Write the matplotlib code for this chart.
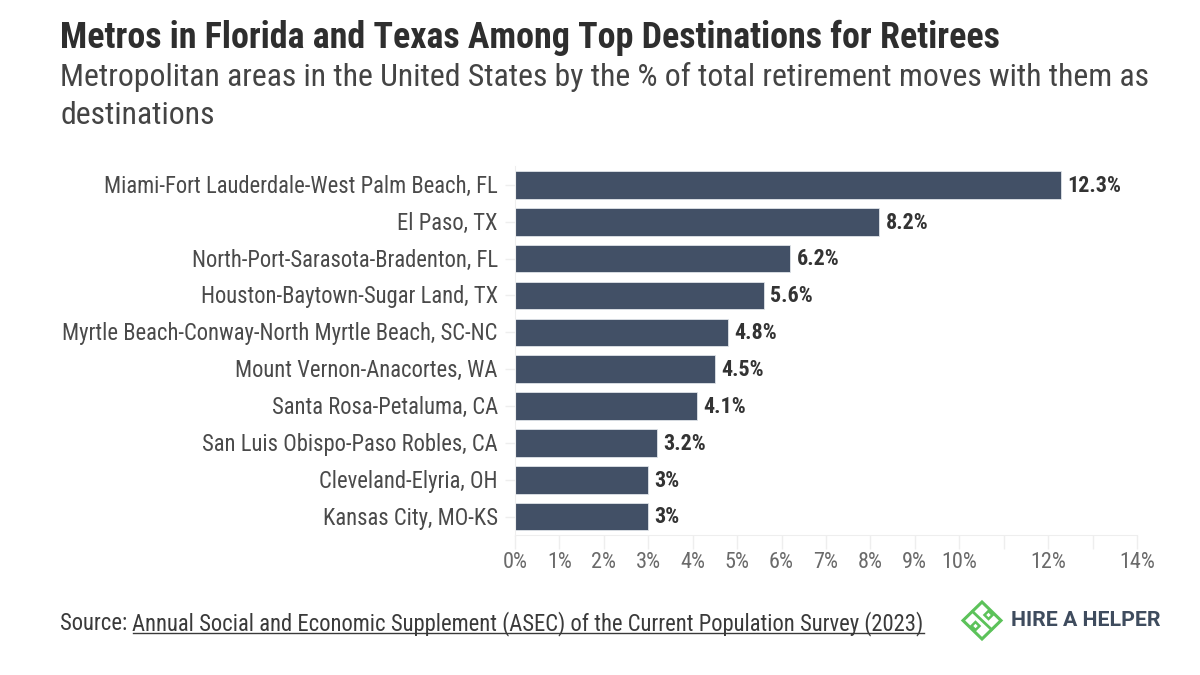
import matplotlib
matplotlib.use("Agg")
import matplotlib.pyplot as plt
from matplotlib.lines import Line2D
from matplotlib.patches import Polygon
from matplotlib.transforms import ScaledTranslation

COND = "Roboto Condensed"

metros = ["Miami-Fort Lauderdale-West Palm Beach, FL", "El Paso, TX", "North-Port-Sarasota-Bradenton, FL",
          "Houston-Baytown-Sugar Land, TX", "Myrtle Beach-Conway-North Myrtle Beach, SC-NC",
          "Mount Vernon-Anacortes, WA", "Santa Rosa-Petaluma, CA", "San Luis Obispo-Paso Robles, CA",
          "Cleveland-Elyria, OH", "Kansas City, MO-KS"]
shares = [12.3, 8.2, 6.2, 5.6, 4.8, 4.5, 4.1, 3.2, 3.0, 3.0]
share_labels = ["12.3%", "8.2%", "6.2%", "5.6%", "4.8%", "4.5%", "4.1%", "3.2%", "3%", "3%"]
x_ticks = list(range(15))
x_tick_labels = ["0%", "1%", "2%", "3%", "4%", "5%", "6%", "7%", "8%", "9%", "10%", "", "12%", "", "14%"]

W, H = 1200, 675
fig = plt.figure(figsize=(W / 100, H / 100), dpi=100, facecolor="white")
plt.rcParams["font.family"] = [COND, "DejaVu Sans"]
ax = fig.add_axes([515 / W, 1 - 535 / H, (1137 - 515) / W, (535 - 166.5) / H])
ypos = list(range(len(metros)))
ax.barh(ypos, shares, height=0.75, color="#425066", edgecolor="#dfe3e8", linewidth=0.6)
ax.set_xlim(0, 14)
ax.set_ylim(len(metros) - 0.5, -0.5)
ax.set_yticks(ypos, metros, fontsize=16.3, color="#4a4a4a")
ax.set_xticks(x_ticks, x_tick_labels, fontsize=16, color="#6a6a6a")
ax.tick_params(axis="y", length=7, color="#eeeeee", width=1, pad=5.5)
ax.tick_params(axis="x", length=10, color="#eeeeee", width=1, pad=2.5)
up = ScaledTranslation(0, 1 / 100, fig.dpi_scale_trans)
for t in ax.get_yticklabels():
    t.set_transform(t.get_transform() + up)
for s in ("top", "right"):
    ax.spines[s].set_visible(False)
for s in ("left", "bottom"):
    ax.spines[s].set_color("#eeeeee")
for y, v, lab in zip(ypos, shares, share_labels):
    ax.annotate(lab, (v, y), xytext=(4.5, -0.6), textcoords="offset points", va="center", ha="left",
                fontsize=15.8, fontweight="bold", color="#333333")

def ftext(x, y, s, **kw):
    return fig.text(x / W, 1 - y / H, s, va="center", **kw)

ftext(60, 38, "Metros in Florida and Texas Among Top Destinations for Retirees", fontsize=25.9, fontweight="bold", color="#2e2e2e")
ftext(60, 77, "Metropolitan areas in the United States by the % of total retirement moves with them as", fontsize=22.85, color="#444444")
ftext(60, 115, "destinations", fontsize=22.85, color="#444444")

src = ftext(60, 624, "Source: ", fontsize=16.3, color="#3a3a3a")
fig.canvas.draw()
r = fig.canvas.get_renderer()
bb = src.get_window_extent(r)
link = fig.text(bb.x1 / W, 1 - 624 / H, "Annual Social and Economic Supplement (ASEC) of the Current Population Survey (2023)",
                va="center", fontsize=16.3, color="#3a3a3a")
bb2 = link.get_window_extent(r)
fig.add_artist(Line2D([bb2.x0 / W, bb2.x1 / W], [1 - 633 / H] * 2, color="#3a3a3a", lw=1, transform=fig.transFigure))

# logo
def fp(pts):
    return [(x / W, 1 - y / H) for x, y in pts]
GREEN = "#5cc25a"
fig.add_artist(Polygon(fp([(982, 602), (1001, 620.5), (982, 639), (963, 620.5)]), closed=True, fill=False,
                       edgecolor=GREEN, lw=2.2, transform=fig.transFigure))
for cx, cy in ((988.5, 615), (975.5, 626)):
    fig.add_artist(Polygon(fp([(cx, cy - 4), (cx + 4, cy), (cx, cy + 4), (cx - 4, cy)]), closed=True, fill=False,
                           edgecolor=GREEN, lw=1.8, transform=fig.transFigure))
fig.add_artist(Line2D(*zip(*fp([(972.5, 611.5), (991.5, 629.5)])), color=GREEN, lw=2, transform=fig.transFigure))
ftext(1011, 621, "HIRE A HELPER", fontsize=15.3, fontweight="bold", color="#3f4c5e", family="Roboto")

fig.savefig("out.png", dpi=100, facecolor="white")
